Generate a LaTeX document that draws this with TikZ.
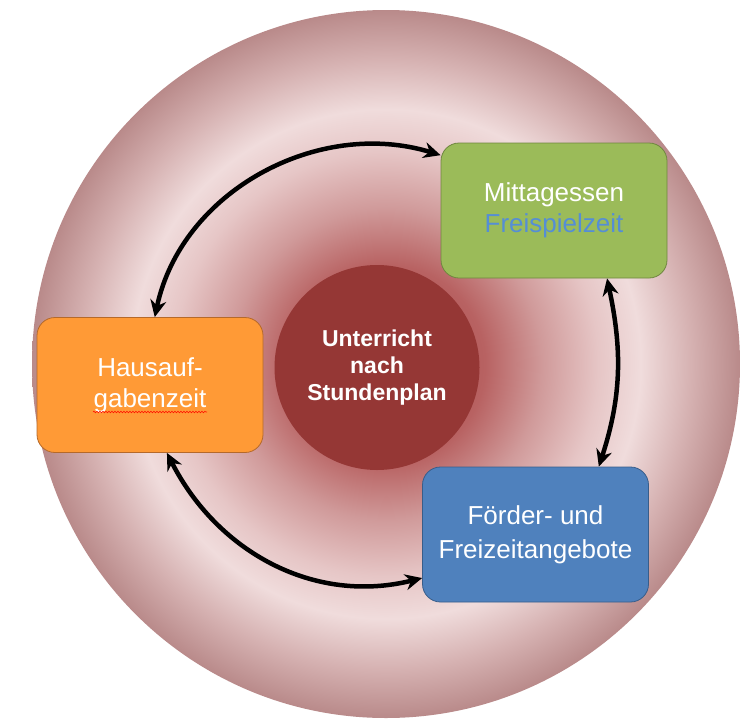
\documentclass[tikz,border=0pt]{standalone}
\usepackage{fontspec}
\setmainfont{Liberation Sans}
\usetikzlibrary{positioning}
\usetikzlibrary{arrows.meta}
\usetikzlibrary{decorations.pathmorphing}

\definecolor{ringcore}{HTML}{A04444}
\definecolor{ringinner}{HTML}{B86262}
\definecolor{ringmid}{HTML}{D09A9A}
\definecolor{ringpale}{HTML}{E6C6C6}
\definecolor{ringlight}{HTML}{F0DCDC}
\definecolor{ringfade}{HTML}{D6B2B2}
\definecolor{ringouter}{HTML}{B98A8A}
\definecolor{lessonred}{HTML}{953735}
\definecolor{homeorange}{HTML}{FF9A36}
\definecolor{homeline}{HTML}{B5692A}
\definecolor{lunchgreen}{HTML}{9BBB59}
\definecolor{lunchline}{HTML}{6F873F}
\definecolor{playblue}{HTML}{558ED5}
\definecolor{offerblue}{HTML}{4F81BD}
\definecolor{offerline}{HTML}{385D8A}

\pgfdeclareradialshading{ringshade}{\pgfpointorigin}{color(0bp)=(ringcore); color(7bp)=(ringinner); color(11bp)=(ringmid); color(15bp)=(ringpale); color(18bp)=(ringlight); color(21.5bp)=(ringfade); color(25bp)=(ringouter); color(50bp)=(ringouter)}

\begin{document}
\begin{tikzpicture}[x=1pt, y=-1pt,
    phase/.style={rectangle, rounded corners=18pt, minimum width=226pt, minimum height=135pt, inner sep=0pt, align=center, text=white, font=\fontsize{26}{31}\selectfont, line width=0.8pt},
    link/.style={line width=4.5pt, {Stealth[length=17pt,width=16pt]}-{Stealth[length=17pt,width=16pt]}},
    spellmark/.style={red!85!orange, line width=0.6pt, decorate, decoration={snake, amplitude=0.8pt, segment length=3pt}}]
    \useasboundingbox (0, 0) rectangle (741, 720);
    \node (disc) [circle, minimum size=708pt, inner sep=0pt, shading=ringshade] at (386, 364) {};
    \node (lesson) [circle, fill=lessonred, minimum size=205pt, inner sep=0pt, align=center, text=white, font=\bfseries\fontsize{23}{27}\selectfont] at (377, 367.5) {Unterricht\\nach\\Stundenplan};
    \node (haus) [phase, fill=homeorange, draw=homeline] at (150, 385) {Hausauf-\\gabenzeit};
    \node (mittag) [phase, fill=lunchgreen, draw=lunchline] at (554, 210.5) {Mittagessen\\\textcolor{playblue}{Freispielzeit}};
    \node (foerder) [phase, fill=offerblue, draw=offerline] at (535.5, 534.5) {Förder- und\\[3pt]Freizeitangebote};
    \draw[spellmark] ([xshift=-57pt, yshift=-27pt]haus.center) -- ([xshift=57pt, yshift=-27pt]haus.center);
    \draw[link] (haus.86) to[out=78, in=163] (mittag.154);
    \draw[link] (mittag.-52) to[out=-78, in=72] (foerder.47);
    \draw[link] (haus.-76) to[out=-63, in=194] (foerder.201);
\end{tikzpicture}
\end{document}
